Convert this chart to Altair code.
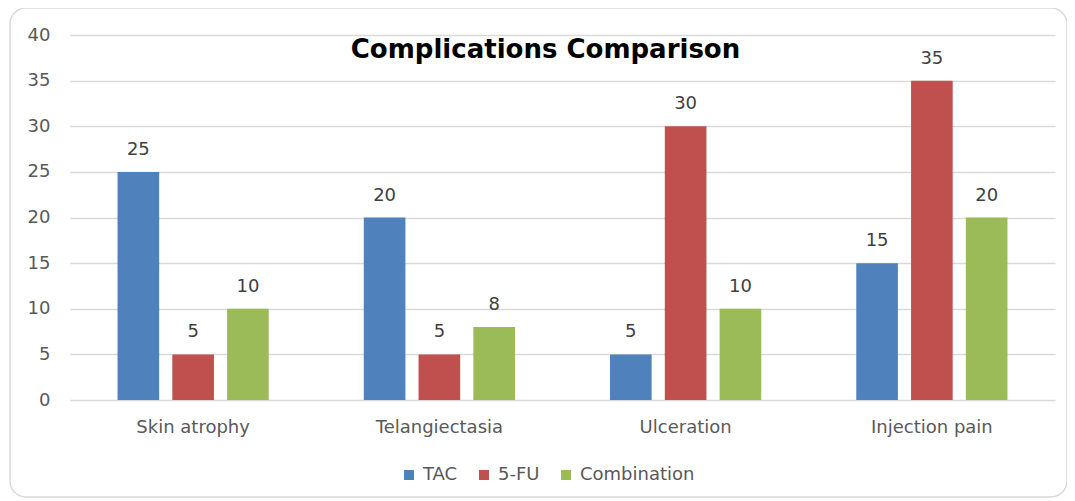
import altair as alt
import pandas as pd

categories = ["Skin atrophy", "Telangiectasia", "Ulceration", "Injection pain"]
series = ["TAC", "5-FU", "Combination"]
tac = [25, 20, 5, 15]
fu = [5, 5, 30, 35]
combo = [10, 8, 10, 20]
colors = ["#4F81BD", "#C0504D", "#9BBB59"]

rows = []
for i, c in enumerate(categories):
    for s, vals in zip(series, [tac, fu, combo]):
        rows.append({"category": c, "series": s, "value": vals[i]})
df = pd.DataFrame(rows)

FONT = "DejaVu Sans"
FS = 18

x = alt.X("category:N", sort=categories, title=None,
          scale=alt.Scale(paddingInner=0.386, paddingOuter=0.193),
          axis=alt.Axis(labelAngle=0, labelFontSize=FS, labelColor="#595959",
                        labelFont=FONT, ticks=False, domain=False, labelPadding=18,
                        grid=False))
xo = alt.XOffset("series:N", sort=series,
                 scale=alt.Scale(paddingInner=0.24, paddingOuter=0))
y = alt.Y("value:Q", title=None,
          scale=alt.Scale(domain=[0, 40]),
          axis=alt.Axis(values=[0, 5, 10, 15, 20, 25, 30, 35, 40], labelFontSize=FS,
                        labelColor="#595959", labelFont=FONT, ticks=False,
                        domain=False, labelPadding=20, gridColor="#D9D9D9",
                        gridWidth=1.5))

base = alt.Chart(df)

bars = base.mark_bar().encode(
    x=x, xOffset=xo, y=y,
    color=alt.Color("series:N", sort=series,
                    scale=alt.Scale(domain=series, range=colors),
                    legend=alt.Legend(title=None, orient="none", direction="horizontal",
                                      legendX=330, legendY=431, labelFontSize=FS,
                                      labelFont=FONT, labelColor="#595959",
                                      symbolType="square", symbolSize=100,
                                      symbolStrokeWidth=0, columnPadding=17,
                                      labelOffset=5)),
)

labels = base.mark_text(baseline="bottom", dy=-13, fontSize=FS, font=FONT,
                        color="#404040").encode(
    x=x, xOffset=xo, y=y, text="value:Q"
)

border = alt.Chart(pd.DataFrame({"a": [0]})).mark_rect(
    fill=None, stroke="#D9D9D9", strokeWidth=1.5, cornerRadius=16
).encode(
    x=alt.value(-60), x2=alt.value(997), y=alt.value(-27), y2=alt.value(462)
)

chart = alt.layer(border, bars, labels).properties(
    width=985, height=365,
    title=alt.TitleParams("Complications Comparison", fontSize=26, fontWeight="bold",
                          font=FONT, color="black", anchor="middle", offset=-24,
                          dx=-17, dy=32),
    autosize=alt.AutoSizeParams(type="none"),
    padding={"left": 62, "top": 27, "right": 12, "bottom": 98},
).configure_view(stroke=None)

chart.save("out.html", embed_options={"renderer": "svg", "actions": False})
